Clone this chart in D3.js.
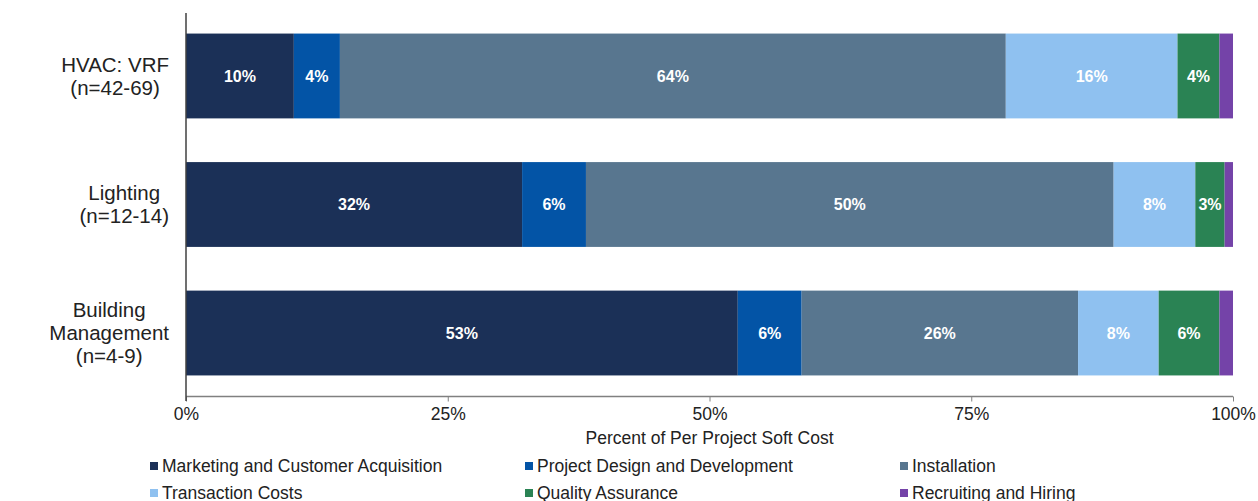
<!DOCTYPE html>
<html>
<head>
<meta charset="utf-8">
<script src="https://cdn.jsdelivr.net/npm/d3@7/dist/d3.min.js"></script>
<style>
  html, body { margin: 0; padding: 0; background: #fff; }
  svg { display: block; font-family: "Liberation Sans", Arial, sans-serif; }
</style>
</head>
<body>
<svg id="chart" width="1258" height="501"></svg>
<script>
// Project types (each label is split into lines)
const categories = [
  ["HVAC: VRF", "(n=42-69)"],
  ["Lighting", "(n=12-14)"],
  ["Building", "Management", "(n=4-9)"]
];

// Cost components, in stacking order
const seriesNames = [
  "Marketing and Customer Acquisition",
  "Project Design and Development",
  "Installation",
  "Transaction Costs",
  "Quality Assurance",
  "Recruiting and Hiring"
];

// Share of per-project soft cost (%), one array per project type
const hvacValues     = [10.3, 4.4, 63.6, 16.4, 4.0, 1.3];
const lightingValues = [32.1, 6.1, 50.4, 7.8, 2.8, 0.8];
const buildingValues = [52.7, 6.1, 26.4, 7.7, 5.8, 1.3];

const xTickValues = [0, 25, 50, 75, 100];
const xAxisTitle = "Percent of Per Project Soft Cost";

const colors = ["#1b3057", "#0354a6", "#58768f", "#8fc1f0", "#2a8354", "#7443a8"];

const rows = [hvacValues, lightingValues, buildingValues];
const catKeys = categories.map(c => c.join(" "));

const svg = d3.select("#chart");
const margin = { left: 186, right: 25, top: 13, bottom: 105 };
const W = 1258, H = 501;
const textSize = 17.5;

const x = d3.scaleLinear().domain([0, 100]).range([margin.left, W - margin.right]);
const y = d3.scaleBand().domain(catKeys).range([margin.top, H - margin.bottom])
  .paddingInner(0.34).paddingOuter(0.16);
const color = d3.scaleOrdinal().domain(seriesNames).range(colors);

// Stack the rows
const table = rows.map((vals, i) => {
  const o = { key: catKeys[i] };
  seriesNames.forEach((s, j) => o[s] = vals[j]);
  return o;
});
const stacked = d3.stack().keys(seriesNames)(table);

const g = svg.append("g");
const layers = g.selectAll("g.layer").data(stacked).join("g")
  .attr("class", "layer")
  .attr("fill", d => color(d.key));

layers.selectAll("rect").data(d => d).join("rect")
  .attr("x", d => x(d[0]))
  .attr("y", d => y(d.data.key))
  .attr("width", d => x(d[1]) - x(d[0]))
  .attr("height", y.bandwidth());

// Value labels inside segments
layers.selectAll("text").data(d => d.filter(p => p[1] - p[0] >= 2)).join("text")
  .attr("x", d => (x(d[0]) + x(d[1])) / 2)
  .attr("y", d => y(d.data.key) + y.bandwidth() / 2)
  .attr("dy", "0.36em")
  .attr("text-anchor", "middle")
  .attr("fill", "#fff")
  .attr("font-weight", "bold")
  .attr("font-size", 16)
  .text(d => Math.round(d[1] - d[0]) + "%");

// X axis
const xAxis = d3.axisBottom(x).tickValues(xTickValues).tickFormat(d => d + "%")
  .tickSize(5).tickPadding(6);
const axG = svg.append("g").attr("transform", `translate(0,${H - margin.bottom + 0.5})`).call(xAxis);
axG.select(".domain").attr("stroke", "#808080").attr("stroke-width", 1.5).attr("d", `M${x(0)},0H${x(100)}`);
axG.selectAll(".tick line").attr("stroke", "#808080");
axG.selectAll(".tick text").attr("font-size", textSize).attr("fill", "#222")
  .attr("font-family", "Liberation Sans, Arial, sans-serif");

svg.append("text")
  .attr("x", (x(0) + x(100)) / 2)
  .attr("y", 444)
  .attr("text-anchor", "middle")
  .attr("font-size", textSize)
  .attr("fill", "#222")
  .text(xAxisTitle);

// Y axis line
svg.append("line")
  .attr("x1", x(0)).attr("x2", x(0))
  .attr("y1", margin.top).attr("y2", H - margin.bottom + 5)
  .attr("stroke", "#404040").attr("stroke-width", 1.5);

// Category labels: centered lines, block right-aligned near the axis
const labelRight = 169;
const lineH = 23;
categories.forEach((lines, i) => {
  const cy = y(catKeys[i]) + y.bandwidth() / 2;
  const t = svg.append("text")
    .attr("font-size", 20.5)
    .attr("fill", "#222")
    .attr("text-anchor", "middle");
  const spans = lines.map((ln, k) => t.append("tspan")
    .attr("y", cy + (k - (lines.length - 1) / 2) * lineH)
    .attr("dy", "0.36em")
    .text(ln));
  const maxW = d3.max(spans, s => s.node().getComputedTextLength());
  spans.forEach(s => s.attr("x", labelRight - maxW / 2));
});

// Legend: three columns, two rows
const legendCols = [150, 525, 900];
const legendRows = [466, 493];
const lg = svg.append("g");
seriesNames.forEach((s, i) => {
  const cx = legendCols[i % 3], cy = legendRows[Math.floor(i / 3)];
  lg.append("rect").attr("x", cx).attr("y", cy - 4).attr("width", 8).attr("height", 8)
    .attr("fill", color(s));
  lg.append("text").attr("x", cx + 12).attr("y", cy).attr("dy", "0.36em")
    .attr("font-size", textSize).attr("fill", "#222").text(s);
});
</script>
</body>
</html>
